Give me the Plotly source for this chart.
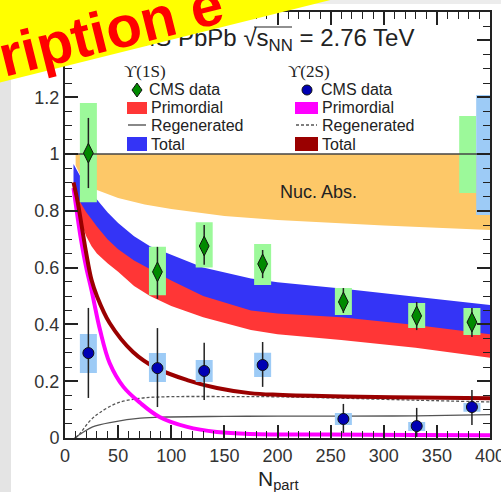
import plotly.graph_objects as go

# ---------------- data ----------------
npart = [22, 87, 131, 186, 262, 331, 383]

r1s = [1.003, 0.585, 0.676, 0.613, 0.479, 0.430, 0.408]
r1s_stat_hi = [1.127, 0.673, 0.750, 0.662, 0.528, 0.479, 0.458]
r1s_stat_lo = [0.880, 0.490, 0.610, 0.563, 0.440, 0.380, 0.356]
r1s_syst_hi = [1.180, 0.673, 0.760, 0.683, 0.528, 0.475, 0.458]
r1s_syst_lo = [0.830, 0.503, 0.600, 0.539, 0.433, 0.387, 0.363]

r2s = [0.299, 0.246, 0.236, 0.257, 0.067, 0.042, 0.109]
r2s_stat_hi = [0.458, 0.387, 0.335, 0.338, 0.120, 0.106, 0.169]
r2s_stat_lo = [0.141, 0.109, 0.134, 0.180, 0.018, 0.004, 0.046]
r2s_syst_hi = [0.366, 0.299, 0.275, 0.300, 0.088, 0.056, 0.123]
r2s_syst_lo = [0.229, 0.197, 0.197, 0.215, 0.046, 0.025, 0.092]

glob_1s = [0.863, 1.134]
glob_2s = [0.785, 1.208]

# nuclear absorption band (upper edge = 1)
nuc_n = [10, 15, 20, 30, 50, 75, 100, 150, 200, 250, 300, 350, 400]
nuc_lo = [0.96, 0.92, 0.90, 0.873, 0.845, 0.822, 0.806, 0.782, 0.768, 0.757, 0.748, 0.740, 0.732]

# Upsilon(1S) total band and primordial band
m1_n = [8, 12, 16, 20, 25, 30, 40, 50, 65, 80, 100, 130, 175, 200, 260, 330, 400]
tot1_hi = [0.965, 0.94, 0.91, 0.885, 0.86, 0.84, 0.795, 0.757, 0.71, 0.675, 0.645, 0.60, 0.562, 0.548, 0.526, 0.497, 0.468]
tot1_lo = [0.87, 0.845, 0.82, 0.795, 0.77, 0.745, 0.70, 0.665, 0.625, 0.595, 0.555, 0.50, 0.449, 0.438, 0.425, 0.398, 0.365]
prim1_lo = [0.86, 0.81, 0.75, 0.71, 0.675, 0.65, 0.615, 0.585, 0.535, 0.50, 0.465, 0.425, 0.38, 0.365, 0.345, 0.318, 0.283]

# Upsilon(2S) curves
mag_n = [8, 11, 15, 20, 25, 33, 42, 55, 71, 89, 115, 143, 174, 250, 330, 400]
prim2 = [0.88, 0.80, 0.70, 0.60, 0.52, 0.38, 0.264, 0.18, 0.123, 0.074, 0.039, 0.021, 0.014, 0.012, 0.011, 0.010]

dr_n = [8, 12, 16, 20, 25, 30, 42, 64, 86, 115, 143, 174, 200, 262, 331, 400]
tot2 = [0.90, 0.83, 0.74, 0.65, 0.556, 0.50, 0.405, 0.303, 0.246, 0.204, 0.176, 0.158, 0.152, 0.146, 0.143, 0.140]

rg2_n = [10, 15, 20, 26, 33, 49, 71, 94, 150, 200, 262, 331, 400]
regen2 = [0.0, 0.02, 0.045, 0.07, 0.09, 0.123, 0.14, 0.145, 0.146, 0.145, 0.14, 0.133, 0.127]

rg1_n = [9, 15, 26, 45, 71, 96, 150, 200, 262, 331, 400]
regen1 = [0.0, 0.015, 0.039, 0.056, 0.07, 0.074, 0.076, 0.077, 0.077, 0.078, 0.082]

# ---------------- styling ----------------
ORANGE = "#fdc868"
BLUE = "#3434f6"
RED = "#ff3636"
MAGENTA = "#ff00ff"
DARKRED = "#9a0000"
LGREEN = "#9cf99a"
LBLUE = "#9dcbf6"
GREEN = "#008a00"
DOTBLUE = "#0000b4"
SANS = "Liberation Sans"
SERIF = "Liberation Serif"

fig = go.Figure()


def band(xs, lo, hi, color):
    fig.add_trace(go.Scatter(x=list(xs) + list(xs)[::-1], y=list(lo) + list(hi)[::-1],
                             fill="toself", fillcolor=color, mode="lines",
                             line=dict(width=0, color=color), hoverinfo="skip"))


band(nuc_n, nuc_lo, [1.0] * len(nuc_n), ORANGE)
band(m1_n, prim1_lo, [v + 0.01 for v in tot1_lo], RED)
band(m1_n, tot1_lo, tot1_hi, BLUE)

fig.add_trace(go.Scatter(x=rg1_n, y=regen1, mode="lines", line=dict(color="#555", width=1.3, shape="spline")))
fig.add_trace(go.Scatter(x=rg2_n, y=regen2, mode="lines",
                         line=dict(color="#555", width=1.3, dash="3px,2px", shape="spline")))
fig.add_trace(go.Scatter(x=mag_n, y=prim2, mode="lines", line=dict(color=MAGENTA, width=4, shape="spline")))
fig.add_trace(go.Scatter(x=dr_n, y=tot2, mode="lines", line=dict(color=DARKRED, width=4, shape="spline")))


def boxes(xc, lo, hi, hw, color):
    xs, ys = [], []
    for x, l, h in zip(xc, lo, hi):
        xs += [x - hw, x + hw, x + hw, x - hw, x - hw, None]
        ys += [l, l, h, h, l, None]
    fig.add_trace(go.Scatter(x=xs, y=ys, fill="toself", fillcolor=color, mode="lines",
                             line=dict(width=0, color=color), hoverinfo="skip"))


boxes(npart, r1s_syst_lo, r1s_syst_hi, 8, LGREEN)
boxes(npart, r2s_syst_lo, r2s_syst_hi, 8, LBLUE)
boxes([379], [glob_1s[0]], [glob_1s[1]], 8, LGREEN)
boxes([394], [glob_2s[0]], [glob_2s[1]], 7, LBLUE)

fig.add_trace(go.Scatter(x=[0, 400], y=[1, 1], mode="lines", line=dict(color="#444", width=1.5)))

fig.add_trace(go.Scatter(
    x=npart, y=r1s, mode="markers",
    marker=dict(symbol="diamond-tall", size=14, color=GREEN, line=dict(color="#111", width=1)),
    error_y=dict(type="data", symmetric=False,
                 array=[h - v for h, v in zip(r1s_stat_hi, r1s)],
                 arrayminus=[v - l for v, l in zip(r1s, r1s_stat_lo)],
                 color="#222", thickness=1.5, width=0)))
fig.add_trace(go.Scatter(
    x=npart, y=r2s, mode="markers",
    marker=dict(symbol="circle", size=11, color=DOTBLUE, line=dict(color="#111", width=1)),
    error_y=dict(type="data", symmetric=False,
                 array=[h - v for h, v in zip(r2s_stat_hi, r2s)],
                 arrayminus=[v - l for v, l in zip(r2s, r2s_stat_lo)],
                 color="#222", thickness=1.5, width=0)))

axis_common = dict(showgrid=False, zeroline=False, showline=True, linecolor="#222", linewidth=2,
                   mirror="allticks", ticks="inside", ticklen=13, tickwidth=1.5, tickcolor="#222",
                   ticklabeloverflow="allow", automargin=False,
                   tickfont=dict(family=SANS, size=18, color="#333"))
fig.update_xaxes(range=[0, 400], dtick=50, tick0=0,
                 minor=dict(dtick=10, ticks="inside", ticklen=7, tickwidth=1.2, tickcolor="#222"),
                 **axis_common)
fig.update_yaxes(range=[0, 1.5], dtick=0.2, tick0=0,
                 minor=dict(dtick=0.05, ticks="inside", ticklen=7, tickwidth=1.2, tickcolor="#222"),
                 **axis_common)

L, T, W, H = 65, 12, 425, 426


def PX(x):
    return (x - L) / W


def PY(y):
    return (T + H - y) / H


shapes = []
annots = []

# background strips
shapes.append(dict(type="rect", xref="paper", yref="paper", x0=PX(0), x1=PX(11), y0=PY(492), y1=PY(0),
                   fillcolor="#e4e4e4", line=dict(width=0), layer="below"))
shapes.append(dict(type="rect", xref="paper", yref="paper", x0=PX(0), x1=PX(501), y0=PY(4), y1=PY(0),
                   fillcolor="#ececec", line=dict(width=0), layer="below"))


def txt(x, y, s, size=16, family=SANS, anchor="left", color="#222"):
    annots.append(dict(xref="paper", yref="paper", x=PX(x), y=PY(y), text=s, showarrow=False,
                       xanchor=anchor, yanchor="middle", font=dict(family=family, size=size, color=color),
                       borderpad=0, borderwidth=0))


def rect(x0, x1, y0, y1, color):
    shapes.append(dict(type="rect", xref="paper", yref="paper", x0=PX(x0), x1=PX(x1), y0=PY(y1), y1=PY(y0),
                       fillcolor=color, line=dict(width=0), layer="above"))


def hline(x0, x1, y, dash="solid", color="#555", width=1.4):
    shapes.append(dict(type="line", xref="paper", yref="paper", x0=PX(x0), x1=PX(x1), y0=PY(y), y1=PY(y),
                       line=dict(color=color, width=width, dash=dash), layer="above"))


# legend, left column
txt(124, 71, "ϒ(1S)", size=17, family=SERIF)
dx, dy, hx, hy = 137, 90, 5, 7
shapes.append(dict(type="path", xref="paper", yref="paper",
                   path=f"M{PX(dx)},{PY(dy - hy)} L{PX(dx + hx)},{PY(dy)} L{PX(dx)},{PY(dy + hy)} L{PX(dx - hx)},{PY(dy)} Z",
                   fillcolor=GREEN, line=dict(color="#111", width=1), layer="above"))
txt(149, 90, "CMS data")
rect(127, 147, 102, 114, RED)
txt(151, 107, "Primordial")
hline(128, 146, 125)
txt(151, 125, "Regenerated")
rect(127, 147, 137, 151, BLUE)
txt(151, 144, "Total")

# legend, right column
txt(288, 71, "ϒ(2S)", size=17, family=SERIF)
shapes.append(dict(type="circle", xref="paper", yref="paper", x0=PX(302), x1=PX(312), y0=PY(95), y1=PY(85),
                   fillcolor=DOTBLUE, line=dict(color="#111", width=1), layer="above"))
txt(321, 90, "CMS data")
rect(295, 318, 102, 114, MAGENTA)
txt(322, 107, "Primordial")
hline(296, 317, 125, dash="3px,2px")
txt(322, 125, "Regenerated")
rect(295, 318, 137, 151, DARKRED)
txt(322, 144, "Total")

txt(318, 192, "Nuc. Abs.", size=18, anchor="center")
txt(278, 480, "N<sub>part</sub>", size=21, anchor="center")

# title (with the overline of the square root)
txt(266, 40, "CMS PbPb √s<sub>NN</sub> = 2.76 TeV", size=24, anchor="center")
hline(254, 292, 27, color="#222", width=1.2)

# yellow banner and red text on top
annots.append(dict(xref="paper", yref="paper", x=PX(71), y=PY(-59), text=" ", showarrow=False,
                   xanchor="center", yanchor="middle", width=900, height=240, bgcolor="#ffff00",
                   textangle=-14, borderpad=0, borderwidth=0))
annots.append(dict(xref="paper", yref="paper", x=PX(110), y=PY(29), text="<b>ription e</b>", showarrow=False,
                   xanchor="center", yanchor="middle", textangle=-14,
                   font=dict(family=SANS, size=58, color="#ff0000")))

fig.update_layout(width=501, height=492,
                  margin=dict(l=L, r=501 - L - W, t=T, b=492 - T - H, autoexpand=False),
                  paper_bgcolor="white", plot_bgcolor="white", showlegend=False,
                  shapes=shapes, annotations=annots)

fig.write_html("out.html", config={"displayModeBar": False},
               post_script="document.body.style.margin='0px';")
